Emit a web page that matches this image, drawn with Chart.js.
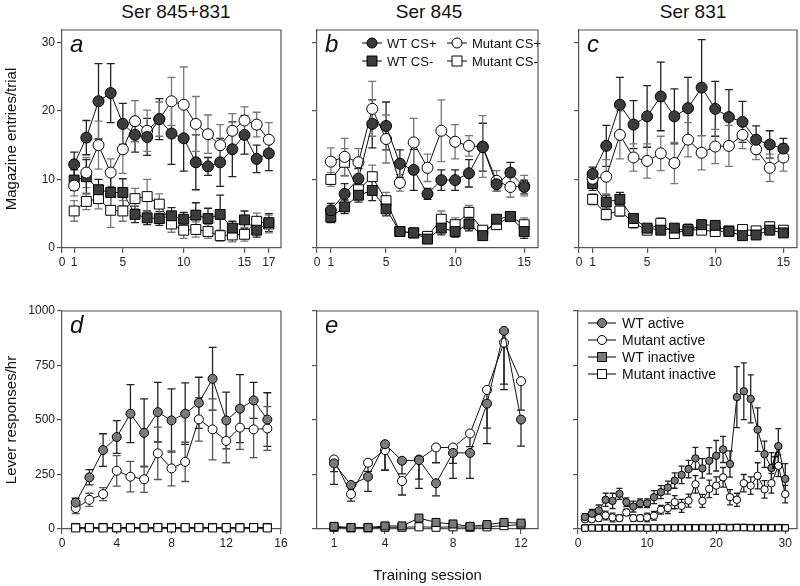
<!DOCTYPE html>
<html>
<head>
<meta charset="utf-8">
<script src="https://cdn.jsdelivr.net/npm/chart.js@4.4.1/dist/chart.umd.min.js"></script>
<style>
  html, body { margin: 0; padding: 0; background: #fff; }
  #wrap { position: relative; width: 800px; height: 586px; overflow: hidden; }
  #wrap canvas { position: absolute; }
  .head { position: absolute; top: 1px; width: 200px; text-align: center;
          font: 19px 'Liberation Sans Narrow', 'Liberation Sans', Arial, sans-serif; color: #111; }
</style>
</head>
<body>
<div id="wrap">
  <div class="head" style="left:76px">Ser 845+831</div>
  <div class="head" style="left:329px">Ser 845</div>
  <div class="head" style="left:593px">Ser 831</div>
  <canvas id="panelA"></canvas>
  <canvas id="panelB"></canvas>
  <canvas id="panelC"></canvas>
  <canvas id="panelD"></canvas>
  <canvas id="panelE"></canvas>
  <canvas id="panelF"></canvas>
</div>
<script>
// ---------- data ----------
// a: Ser 845+831, magazine entries per trial
const sessA = [1, 2, 3, 4, 5, 6, 7, 8, 9, 10, 11, 12, 13, 14, 15, 16, 17];
const wtPlusA = [12.2, 16.1, 21.4, 22.6, 18.1, 16.5, 16.2, 18.8, 16.7, 16.0, 12.5, 11.9, 12.5, 14.4, 16.5, 13.0, 13.8];
const wtPlusErrA = [1.8, 2.5, 5.5, 4.3, 3, 2.5, 2.7, 3, 4.5, 4.8, 4, 1.3, 3.5, 4, 2.8, 2, 2.5];
const muPlusA = [9.1, 11.0, 15.0, 11.0, 14.4, 18.5, 17.1, 18.8, 21.4, 20.9, 18.1, 16.6, 15.0, 17.1, 18.6, 18.0, 15.8];
const muPlusErrA = [1.5, 2.2, 3.5, 2, 3.5, 3, 3, 2.5, 3.5, 5.5, 4, 2.8, 3, 2.5, 2, 1.8, 2.5];
const wtMinusA = [9.9, 10.4, 8.5, 8.1, 8.1, 4.9, 4.4, 4.3, 4.7, 4.2, 4.8, 4.3, 4.9, 2.9, 4.1, 2.6, 3.7];
const wtMinusErrA = [1.5, 2.5, 1.5, 2.5, 2, 1.2, 1, 1, 1.2, 1, 1.8, 1.5, 2.8, 1, 1.3, 1, 1.3];
const muMinusA = [5.4, 6.8, 7.2, 5.5, 5.4, 7.2, 7.5, 6.4, 3.5, 2.6, 2.7, 2.4, 1.8, 1.9, 2.0, 3.9, 3.5];
const muMinusErrA = [1.5, 1.2, 1.5, 2.5, 1.5, 1.5, 2.5, 1.5, 1.2, 1.2, 1.1, 1, 0.8, 1, 1, 1.2, 1.3];

// b: Ser 845
const sessB = [1, 2, 3, 4, 5, 6, 7, 8, 9, 10, 11, 12, 13, 14, 15];
const wtPlusB = [5.5, 7.9, 10.1, 18.1, 17.8, 12.3, 11.4, 7.9, 9.9, 9.9, 10.9, 14.7, 9.3, 11.0, 8.9];
const wtPlusErrB = [1, 1.5, 1.5, 3.5, 3.5, 2, 3, 0.8, 1.5, 1.5, 2, 3.5, 1, 1.5, 1];
const muPlusB = [12.6, 13.3, 12.5, 20.3, 15.9, 9.5, 15.4, 11.7, 17.1, 15.5, 14.9, 14.8, 9.8, 8.9, 9.1];
const muPlusErrB = [2, 2.7, 2, 4, 3.5, 1.2, 3.5, 2, 4.5, 2.5, 1.5, 4.5, 1.5, 1.5, 1.5];
const wtMinusB = [4.5, 6.0, 7.7, 8.4, 5.7, 2.4, 2.2, 1.3, 2.9, 2.4, 3.5, 1.8, 4.2, 4.6, 2.4];
const wtMinusErrB = [0.8, 1, 1, 1.5, 1, 0.5, 0.5, 0.5, 1, 0.8, 1, 0.5, 0.5, 0.5, 1];
const muMinusB = [10.0, 12.5, 8.5, 10.4, 6.9, 2.4, 2.2, 1.7, 4.2, 3.4, 5.2, 2.6, 3.4, 4.6, 3.4];
const muMinusErrB = [1, 2, 1.3, 1.7, 1.2, 0.5, 0.5, 0.5, 1.2, 1, 1, 0.5, 0.5, 0.5, 1];

// c: Ser 831
const sessC = [1, 2, 3, 4, 5, 6, 7, 8, 9, 10, 11, 12, 13, 14, 15];
const wtPlusC = [10.8, 14.9, 20.9, 18.0, 19.2, 22.1, 19.2, 20.4, 23.4, 20.3, 19.1, 18.4, 15.8, 15.1, 14.5];
const wtPlusErrC = [1, 3, 4, 3.5, 4.5, 5, 4, 4.5, 7, 4, 4, 3, 2, 2, 1.5];
const muPlusC = [10.1, 10.4, 16.5, 13.2, 12.7, 13.8, 12.4, 15.8, 13.9, 14.8, 14.9, 16.5, 14.4, 11.7, 13.2];
const muPlusErrC = [1, 2.5, 3.5, 2, 2.5, 2.5, 3, 2.5, 2.5, 2.5, 3, 2, 1.5, 2, 2];
const wtMinusC = [9.4, 6.7, 7.1, 4.3, 2.9, 2.6, 2.9, 2.5, 3.4, 3.3, 2.4, 1.8, 1.9, 2.6, 2.2];
const wtMinusErrC = [1, 1, 1, 0.7, 0.5, 0.5, 0.5, 0.5, 0.7, 0.5, 0.5, 0.5, 0.5, 0.5, 0.5];
const muMinusC = [7.1, 4.9, 5.4, 3.7, 2.6, 3.6, 2.1, 2.7, 2.6, 2.4, 2.5, 2.7, 2.5, 3.1, 2.6];
const muMinusErrC = [0.8, 0.8, 0.8, 0.8, 0.5, 0.8, 0.5, 0.8, 0.6, 0.6, 0.5, 0.5, 0.5, 0.7, 0.5];

// d: Ser 845+831, lever responses per hour
const sessD = [1, 2, 3, 4, 5, 6, 7, 8, 9, 10, 11, 12, 13, 14, 15];
const wtActD = [121, 237, 362, 422, 529, 441, 536, 498, 529, 579, 689, 498, 552, 590, 502];
const wtActErrD = [20, 35, 75, 75, 133, 156, 137, 145, 141, 117, 144, 130, 156, 83, 123];
const muActD = [96, 134, 160, 267, 240, 228, 347, 278, 308, 503, 457, 404, 465, 457, 461];
const muActErrD = [25, 30, 30, 70, 70, 60, 120, 80, 90, 100, 140, 100, 100, 130, 100];
const wtInactD = [7, 6, 7, 6, 7, 6, 7, 7, 6, 7, 7, 6, 7, 6, 7];
const muInactD = [5, 6, 5, 6, 5, 5, 6, 5, 6, 6, 5, 6, 5, 6, 5];

// e: Ser 845
const sessE = [1, 2, 3, 4, 5, 6, 7, 8, 9, 10, 11, 12];
const wtActE = [301, 202, 240, 389, 313, 316, 210, 349, 349, 575, 909, 502];
const wtActErrE = [96, 40, 67, 119, 60, 130, 58, 48, 117, 183, 270, 122];
const muActE = [319, 160, 304, 362, 220, 319, 374, 374, 438, 638, 855, 678];
const muActErrE = [56, 32, 40, 92, 64, 90, 70, 142, 60, 175, 190, 133];
const wtInactE = [12, 7, 7, 14, 14, 50, 30, 23, 12, 20, 30, 27];
const muInactE = [8, 5, 5, 8, 8, 10, 8, 10, 8, 10, 15, 20];

// f: Ser 831
const sessF = [1, 2, 3, 4, 5, 6, 7, 8, 9, 10, 11, 12, 13, 14, 15, 16, 17, 18, 19, 20, 21, 22, 23, 24, 25, 26, 27, 28, 29, 30];
const wtActF = [55, 70, 85, 134, 129, 161, 123, 103, 118, 118, 146, 169, 190, 222, 248, 275, 324, 278, 313, 336, 365, 298, 605, 632, 597, 456, 343, 280, 380, 230];
const wtActErrF = [15, 20, 25, 30, 35, 25, 20, 25, 20, 20, 30, 30, 30, 35, 40, 40, 50, 45, 60, 70, 60, 60, 140, 130, 110, 100, 60, 70, 80, 70];
const muActF = [45, 45, 50, 62, 53, 50, 76, 50, 50, 53, 61, 88, 96, 123, 106, 130, 205, 129, 184, 199, 237, 146, 134, 210, 199, 244, 182, 210, 290, 160];
const muActErrF = [10, 12, 15, 20, 20, 15, 15, 15, 15, 20, 20, 20, 25, 30, 30, 30, 40, 30, 40, 40, 45, 35, 30, 40, 40, 60, 40, 45, 50, 40];
const wtInactF = [5, 6, 5, 6, 6, 5, 5, 6, 6, 5, 6, 5, 6, 6, 7, 6, 6, 7, 6, 7, 8, 7, 8, 8, 7, 6, 7, 6, 7, 6];
const muInactF = [4, 5, 4, 5, 5, 4, 4, 5, 5, 4, 5, 4, 5, 5, 5, 5, 5, 5, 5, 6, 6, 5, 6, 6, 5, 5, 5, 5, 5, 5];

// tick values
const magTicks = [0, 10, 20, 30];
const leverTicks = [0, 250, 500, 750, 1000];
const xTicksA = [0, 1, 5, 10, 15, 17];
const xTicksBC = [0, 1, 5, 10, 15];
const xTicksD = [0, 4, 8, 12, 16];
const xTicksE = [1, 4, 8, 12];
const xTicksF = [0, 10, 20, 30];

// ---------- styling ----------
const AXIS = '#555';
const DARK = '#3c3c3c';
const MID = '#7a7a7a';
const FONT = "'Liberation Sans', Arial, sans-serif";

const pts = (xs, ys) => ys.map((v, i) => ({ x: xs[i], y: v }));

function series(label, xs, ys, err, fill, style, r, errColor, order) {
    return {
        label: label,
        data: pts(xs, ys),
        err: err,
        errColor: errColor,
        order: order || 0,
        borderColor: '#111',
        borderWidth: 1,
        pointStyle: style,
        pointRadius: r,
        pointHoverRadius: r,
        pointBackgroundColor: fill,
        pointBorderColor: '#000',
        pointBorderWidth: 1,
        tension: 0,
        clip: false
    };
}

// error bars drawn under the points
const errorBars = {
    id: 'errorBars',
    beforeDatasetsDraw(chart, args, opts) {
        const ctx = chart.ctx, xs = chart.scales.x, ys = chart.scales.y;
        ctx.save();
        ctx.lineWidth = 1.3;
        chart.data.datasets.forEach(ds => {
            if (!ds.err) return;
            ctx.strokeStyle = ds.errColor || '#222';
            ds.data.forEach((p, i) => {
                const e = ds.err[i];
                if (!e) return;
                const x = xs.getPixelForValue(p.x);
                const yHi = ys.getPixelForValue(opts.downOnly ? p.y : p.y + e);
                const yLo = ys.getPixelForValue(Math.max(p.y - e, 0));
                const w = opts.cap;
                ctx.beginPath();
                ctx.moveTo(x, yHi); ctx.lineTo(x, yLo);
                if (!opts.downOnly) { ctx.moveTo(x - w, yHi); ctx.lineTo(x + w, yHi); }
                ctx.moveTo(x - w, yLo); ctx.lineTo(x + w, yLo);
                ctx.stroke();
            });
        });
        ctx.restore();
    }
};

// top/right frame and the panel letter
const frame = {
    id: 'frame',
    afterDraw(chart, args, opts) {
        const ctx = chart.ctx, a = chart.chartArea;
        ctx.save();
        ctx.strokeStyle = opts.color || AXIS;
        ctx.lineWidth = 1.2;
        ctx.beginPath();
        ctx.moveTo(a.left, a.top); ctx.lineTo(a.right, a.top); ctx.lineTo(a.right, a.bottom);
        ctx.stroke();
        ctx.fillStyle = '#111';
        ctx.font = 'italic 24px ' + FONT;
        ctx.textBaseline = 'alphabetic';
        ctx.fillText(opts.letter, a.left + (opts.dx || 8), a.top + (opts.dy || 22));
        ctx.restore();
    }
};

// legend inside the plot, line through the marker
const insetLegend = {
    id: 'insetLegend',
    afterDatasetsDraw(chart, args, opts) {
        if (!opts.show) return;
        const ctx = chart.ctx, a = chart.chartArea;
        ctx.save();
        ctx.font = opts.font;
        ctx.textBaseline = 'middle';
        chart.data.datasets.forEach((ds, i) => {
            const col = i % opts.cols, row = Math.floor(i / opts.cols);
            const mx = a.left + opts.x + col * opts.colW;
            const my = a.top + opts.y + row * opts.rowH;
            ctx.strokeStyle = '#000';
            ctx.lineWidth = 1;
            ctx.beginPath();
            ctx.moveTo(mx - opts.seg, my); ctx.lineTo(mx + opts.seg, my);
            ctx.stroke();
            ctx.fillStyle = ds.pointBackgroundColor;
            ctx.beginPath();
            if (ds.pointStyle === 'circle') {
                ctx.arc(mx, my, opts.r, 0, Math.PI * 2);
            } else {
                ctx.rect(mx - opts.r, my - opts.r, opts.r * 2, opts.r * 2);
            }
            ctx.fill();
            ctx.stroke();
            ctx.fillStyle = '#111';
            ctx.fillText(ds.label, mx + opts.textOff, my + 1);
        });
        ctx.restore();
    }
};

function panel(id, p) {
    const c = document.getElementById(id);
    const padT = 10, padR = 12;
    c.width = p.yW + (p.r - p.l) + padR;
    c.height = padT + (p.b - p.t) + p.xH;
    c.style.left = (p.l - p.yW) + 'px';
    c.style.top = (p.t - padT) + 'px';

    const grid = { display: true, drawOnChartArea: false, drawTicks: true, tickLength: 5, color: AXIS, lineWidth: 1.2 };
    const tickFont = { family: FONT, size: 12 };

    new Chart(c.getContext('2d'), {
        type: 'line',
        data: { datasets: p.datasets },
        options: {
            responsive: false,
            animation: false,
            events: [],
            layout: { padding: { left: 0, top: padT, right: padR, bottom: 0 } },
            scales: {
                x: {
                    type: 'linear', min: p.xMin, max: p.xMax,
                    afterBuildTicks: s => { s.ticks = p.xTicks.map(v => ({ value: v })); },
                    afterFit: s => { s.height = p.xH; },
                    grid: grid,
                    border: { display: true, color: AXIS, width: 1.2 },
                    ticks: { font: tickFont, color: '#222', padding: 2, maxRotation: 0, autoSkip: false },
                    title: p.xTitle
                        ? { display: true, text: p.xTitle, color: '#111', font: { family: FONT, size: 15 }, padding: { top: 0, bottom: 1 } }
                        : { display: false }
                },
                y: {
                    type: 'linear', min: 0, max: p.yMax,
                    afterBuildTicks: s => { s.ticks = p.yTicks.map(v => ({ value: v })); },
                    afterFit: s => { s.width = p.yW; },
                    grid: grid,
                    border: { display: true, color: AXIS, width: 1.2 },
                    ticks: { font: tickFont, color: '#222', padding: 2, callback: v => (p.yLabels ? v : '') },
                    title: p.yTitle
                        ? { display: true, text: p.yTitle, color: '#111', font: { family: FONT, size: 15 }, padding: { top: 3, bottom: 0 } }
                        : { display: false }
                }
            },
            plugins: {
                legend: { display: false },
                tooltip: { enabled: false },
                errorBars: { cap: p.cap, downOnly: !!p.downOnly },
                frame: { letter: p.letter, dx: p.letterDx, dy: p.letterDy },
                insetLegend: p.legend || { show: false }
            }
        },
        plugins: [errorBars, frame, insetLegend]
    });
}

// ---------- top row: magazine entries ----------
const rowTop = { t: 30, b: 248, yMax: 31.8, yTicks: magTicks, xH: 24, cap: 4 };
const sq = 7, ci = 5.5;

panel('panelA', Object.assign({}, rowTop, {
    l: 62, r: 281, yW: 62, xMin: 0, xMax: 18, xTicks: xTicksA, yLabels: true,
    yTitle: 'Magazine entries/trial', letter: 'a',
    datasets: [
        series('WT CS+', sessA, wtPlusA, wtPlusErrA, DARK, 'circle', ci, '#222'),
        series('Mutant CS+', sessA, muPlusA, muPlusErrA, '#fff', 'circle', ci, '#777'),
        series('WT CS-', sessA, wtMinusA, wtMinusErrA, DARK, 'rect', sq, '#222'),
        series('Mutant CS-', sessA, muMinusA, muMinusErrA, '#fff', 'rect', sq, '#777')
    ]
}));

panel('panelB', Object.assign({}, rowTop, {
    l: 317, r: 538, yW: 40, xMin: 0, xMax: 16, xTicks: xTicksBC, yLabels: false, letter: 'b',
    legend: { show: true, x: 55, y: 13, cols: 2, colW: 85, rowH: 18, seg: 10, r: 5, textOff: 15, font: '13px ' + FONT },
    datasets: [
        series('WT CS+', sessB, wtPlusB, wtPlusErrB, DARK, 'circle', ci, '#222'),
        series('Mutant CS+', sessB, muPlusB, muPlusErrB, '#fff', 'circle', ci, '#777'),
        series('WT CS-', sessB, wtMinusB, wtMinusErrB, DARK, 'rect', sq, '#222'),
        series('Mutant CS-', sessB, muMinusB, muMinusErrB, '#fff', 'rect', sq, '#777')
    ]
}));

panel('panelC', Object.assign({}, rowTop, {
    l: 579, r: 797, yW: 40, xMin: 0, xMax: 16, xTicks: xTicksBC, yLabels: false, letter: 'c',
    datasets: [
        series('WT CS+', sessC, wtPlusC, wtPlusErrC, DARK, 'circle', ci, '#222'),
        series('Mutant CS+', sessC, muPlusC, muPlusErrC, '#fff', 'circle', ci, '#777'),
        series('WT CS-', sessC, wtMinusC, wtMinusErrC, DARK, 'rect', sq, '#222'),
        series('Mutant CS-', sessC, muMinusC, muMinusErrC, '#fff', 'rect', sq, '#777')
    ]
}));

// ---------- bottom row: lever responses ----------
const rowBot = { t: 311, b: 529, yMax: 1000, yTicks: leverTicks, xH: 30, cap: 4 };

panel('panelD', Object.assign({}, rowBot, {
    l: 62, r: 281, yW: 62, xMin: 0, xMax: 16, xTicks: xTicksD, yLabels: true,
    yTitle: 'Lever responses/hr', letter: 'd',
    datasets: [
        series('WT active', sessD, wtActD, wtActErrD, MID, 'circle', 4.5, '#222'),
        series('Mutant active', sessD, muActD, muActErrD, '#fff', 'circle', 4.5, '#555'),
        series('WT inactive', sessD, wtInactD, null, MID, 'rect', 5.7, null, 1),
        series('Mutant inactive', sessD, muInactD, null, '#fff', 'rect', 5.7, null, -1)
    ]
}));

panel('panelE', Object.assign({}, rowBot, {
    l: 317, r: 538, yW: 40, xH: 57, xMin: 0, xMax: 13, xTicks: xTicksE, yLabels: false,
    xTitle: 'Training session', letter: 'e', downOnly: true,
    datasets: [
        series('WT active', sessE, wtActE, wtActErrE, MID, 'circle', 4.5, '#222'),
        series('Mutant active', sessE, muActE, muActErrE, '#fff', 'circle', 4.5, '#222'),
        series('WT inactive', sessE, wtInactE, null, MID, 'rect', 5.7),
        series('Mutant inactive', sessE, muInactE, null, '#fff', 'rect', 5.7)
    ]
}));

panel('panelF', Object.assign({}, rowBot, {
    l: 578, r: 797, yW: 40, xMin: 0, xMax: 31.7, xTicks: xTicksF, yLabels: false, cap: 3,
    letter: 'f', letterDx: 193, letterDy: 158,
    legend: { show: true, x: 24, y: 12, cols: 1, colW: 0, rowH: 17, seg: 14, r: 4.5, textOff: 20, font: '14px ' + FONT },
    datasets: [
        series('WT active', sessF, wtActF, wtActErrF, MID, 'circle', 3.7, '#222'),
        series('Mutant active', sessF, muActF, muActErrF, '#fff', 'circle', 3.7, '#222'),
        series('WT inactive', sessF, wtInactF, null, MID, 'rect', 4.4, null, 1),
        series('Mutant inactive', sessF, muInactF, null, '#fff', 'rect', 4.4, null, -1)
    ]
}));
</script>
</body>
</html>
